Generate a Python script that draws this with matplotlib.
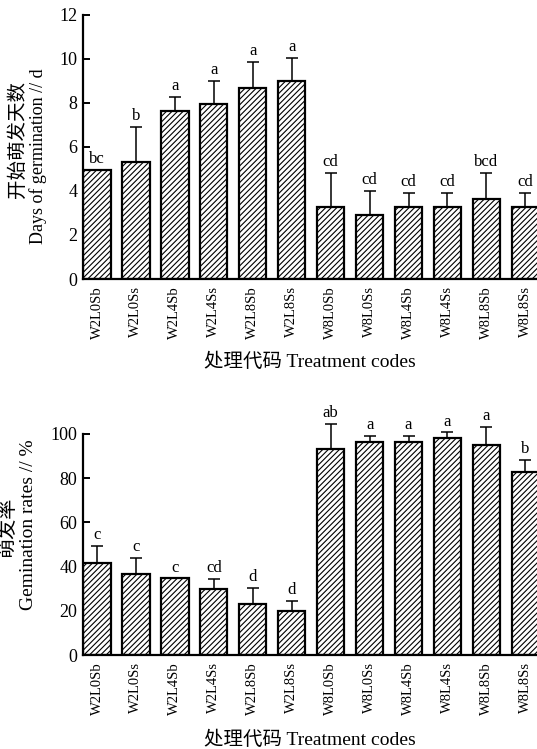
''' Germination days and rates per treatment code. '''

import numpy as np
import matplotlib
matplotlib.use('Agg')
import matplotlib.pyplot as plt

CODES = ['W2L0Sb', 'W2L0Ss', 'W2L4Sb', 'W2L4Ss', 'W2L8Sb', 'W2L8Ss',
         'W8L0Sb', 'W8L0Ss', 'W8L4Sb', 'W8L4Ss', 'W8L8Sb', 'W8L8Ss']

# days of germination (mean, upper error) and significance letters
DAYS = [4.95, 5.3, 7.63, 7.95, 8.66, 9.0, 3.25, 2.92, 3.25, 3.25, 3.62, 3.25]
DAYS_ERR = [0.0, 1.6, 0.64, 1.06, 1.2, 1.05, 1.58, 1.08, 0.67, 0.67, 1.21, 0.67]
DAYS_SIG = ['bc', 'b', 'a', 'a', 'a', 'a', 'cd', 'cd', 'cd', 'cd', 'bcd', 'cd']

# germination rates (%)
RATES = [41.6, 36.6, 34.7, 29.9, 23.2, 19.9, 93.2, 96.4, 96.4, 98.0, 94.9, 82.9]
RATES_ERR = [7.6, 7.4, 0.0, 4.6, 7.1, 4.7, 11.2, 2.8, 2.8, 2.7, 8.4, 5.5]
RATES_SIG = ['c', 'c', 'c', 'cd', 'd', 'd', 'ab', 'a', 'a', 'a', 'a', 'b']

SERIF = ['Liberation Serif', 'Noto Sans CJK SC']
plt.rcParams['font.family'] = SERIF
plt.rcParams['hatch.linewidth'] = 0.8
plt.rcParams['axes.linewidth'] = 1.6


def bar_panel(ax, values, errors, letters, ymax, yticks):
    x = np.arange(len(CODES))
    ax.bar(x, values, width=0.7, color='white', edgecolor='black',
           linewidth=1.6, hatch='//////', zorder=2)
    ax.errorbar(x, values, yerr=[np.zeros(len(x)), errors], fmt='none',
                ecolor='black', elinewidth=1.1, capsize=4, capthick=1.1,
                zorder=3, clip_on=False)
    for xi, v, e, s in zip(x, values, errors, letters):
        ax.annotate(s, (xi, v + e), xytext=(0, 2), textcoords='offset points',
                    ha='center', va='bottom', fontsize=12, annotation_clip=False)
    ax.set_xlim(-0.36, 11.3)
    ax.set_ylim(0, ymax)
    ax.set_yticks(yticks)
    ax.set_xticks(x)
    ax.set_xticklabels(CODES, rotation=90, fontsize=10.5)
    ax.tick_params(axis='y', direction='in', length=5, width=1.4, labelsize=13, pad=4)
    ax.tick_params(axis='x', length=0, pad=5)
    for side in ('top', 'right'):
        ax.spines[side].set_visible(False)


fig = plt.figure(figsize=(5.37, 7.49), dpi=100)

ax1 = fig.add_axes([0.1546, 0.6275, 0.8454, 0.3525])
bar_panel(ax1, DAYS, DAYS_ERR, DAYS_SIG, 12, [0, 2, 4, 6, 8, 10, 12])
fig.text(310 / 537, 1 - 362 / 749, '处理代码 Treatment codes', ha='center',
         va='center', fontsize=14)
fig.text(18 / 537, 1 - 140 / 749, '开始萌发天数', rotation=90, ha='center',
         va='center', fontsize=14)
fig.text(38 / 537, 1 - 156 / 749, 'Days of germination // d', rotation=90,
         ha='center', va='center', fontsize=13)

ax2 = fig.add_axes([0.1546, 0.1255, 0.8454, 0.2951])
bar_panel(ax2, RATES, RATES_ERR, RATES_SIG, 100, [0, 20, 40, 60, 80, 100])
fig.text(310 / 537, 1 - 740 / 749, '处理代码 Treatment codes', ha='center',
         va='center', fontsize=14)
fig.text(8 / 537, 1 - 527 / 749, '萌发率', rotation=90, ha='center',
         va='center', fontsize=14.5)
fig.text(29 / 537, 1 - 525 / 749, 'Gemination rates // %', rotation=90,
         ha='center', va='center', fontsize=14)

fig.savefig('out.png', dpi=100)
